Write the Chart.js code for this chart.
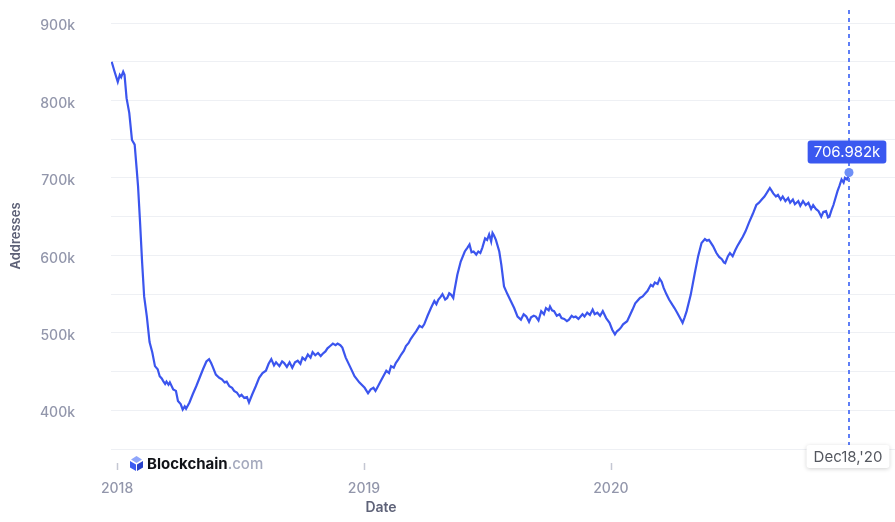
<!DOCTYPE html>
<html>
<head>
<meta charset="utf-8">
<script src="https://cdn.jsdelivr.net/npm/chart.js@4/dist/chart.umd.min.js"></script>
<style>
  html, body { margin: 0; padding: 0; background: #fff; }
  #wrap { width: 895px; height: 522px; position: relative; }
</style>
</head>
<body>
<div id="wrap"><canvas id="myChart"></canvas></div>
<script>
// tarih ve adres sayisi (bin)
const dates = [
  '2017-12-24','2017-12-28','2018-01-02','2018-01-05','2018-01-07','2018-01-10','2018-01-12','2018-01-15','2018-01-19','2018-01-23',
  '2018-01-27','2018-01-30','2018-02-01','2018-02-04','2018-02-07','2018-02-10','2018-02-14','2018-02-18','2018-02-22','2018-02-26',
  '2018-03-02','2018-03-05','2018-03-08','2018-03-10','2018-03-13','2018-03-15','2018-03-18','2018-03-20','2018-03-25','2018-03-29',
  '2018-04-01','2018-04-05','2018-04-08','2018-04-11','2018-04-13','2018-04-18','2018-04-23','2018-04-28','2018-05-03','2018-05-08',
  '2018-05-13','2018-05-17','2018-05-20','2018-05-22','2018-05-27','2018-06-01','2018-06-05','2018-06-09','2018-06-12','2018-06-16',
  '2018-06-20','2018-06-23','2018-06-27','2018-07-01','2018-07-04','2018-07-08','2018-07-12','2018-07-15','2018-07-20','2018-07-25',
  '2018-07-30','2018-08-04','2018-08-09','2018-08-13','2018-08-17','2018-08-21','2018-08-24','2018-08-29','2018-09-02','2018-09-05',
  '2018-09-09','2018-09-13','2018-09-17','2018-09-21','2018-09-25','2018-09-29','2018-10-02','2018-10-06','2018-10-10','2018-10-14',
  '2018-10-17','2018-10-21','2018-10-25','2018-10-29','2018-11-01','2018-11-05','2018-11-08','2018-11-12','2018-11-16','2018-11-20',
  '2018-11-23','2018-11-27','2018-11-30','2018-12-05','2018-12-11','2018-12-18','2018-12-25','2019-01-02','2019-01-07','2019-01-11',
  '2019-01-15','2019-01-18','2019-01-20','2019-01-26','2019-02-03','2019-02-07','2019-02-10','2019-02-14','2019-02-17','2019-02-21',
  '2019-02-25','2019-03-01','2019-03-04','2019-03-08','2019-03-11','2019-03-15','2019-03-19','2019-03-24','2019-03-28','2019-03-31',
  '2019-04-05','2019-04-10','2019-04-15','2019-04-18','2019-04-21','2019-04-24','2019-04-27','2019-05-01','2019-05-04','2019-05-07',
  '2019-05-10','2019-05-13','2019-05-15','2019-05-19','2019-05-24','2019-05-30','2019-06-03','2019-06-06','2019-06-09','2019-06-12',
  '2019-06-16','2019-06-19','2019-06-22','2019-06-25','2019-06-29','2019-07-02','2019-07-05','2019-07-08','2019-07-10','2019-07-12',
  '2019-07-15','2019-07-20','2019-07-23','2019-07-27','2019-08-01','2019-08-06','2019-08-11','2019-08-16','2019-08-21','2019-08-25',
  '2019-08-29','2019-09-02','2019-09-05','2019-09-09','2019-09-12','2019-09-16','2019-09-20','2019-09-24','2019-09-27','2019-10-01',
  '2019-10-03','2019-10-06','2019-10-09','2019-10-13','2019-10-17','2019-10-20','2019-10-24','2019-10-28','2019-10-31','2019-11-04',
  '2019-11-07','2019-11-10','2019-11-14','2019-11-20','2019-11-23','2019-11-27','2019-12-01','2019-12-05','2019-12-08','2019-12-12',
  '2019-12-16','2019-12-20','2019-12-25','2019-12-30','2020-01-03','2020-01-07','2020-01-10','2020-01-13','2020-01-16','2020-01-19',
  '2020-01-25','2020-02-02','2020-02-06','2020-02-09','2020-02-13','2020-02-17','2020-02-21','2020-02-24','2020-02-29','2020-03-03',
  '2020-03-06','2020-03-10','2020-03-13','2020-03-16','2020-03-19','2020-03-23','2020-03-27','2020-04-01','2020-04-04','2020-04-08',
  '2020-04-11','2020-04-16','2020-04-19','2020-04-22','2020-04-28','2020-05-04','2020-05-09','2020-05-14','2020-05-19','2020-05-22',
  '2020-05-25','2020-05-31','2020-06-05','2020-06-09','2020-06-13','2020-06-16','2020-06-18','2020-06-22','2020-06-25','2020-06-29',
  '2020-07-03','2020-07-06','2020-07-10','2020-07-14','2020-07-18','2020-07-23','2020-07-29','2020-08-03','2020-08-07','2020-08-11',
  '2020-08-15','2020-08-18','2020-08-23','2020-08-26','2020-08-28','2020-09-01','2020-09-04','2020-09-08','2020-09-11','2020-09-15',
  '2020-09-19','2020-09-22','2020-09-26','2020-09-29','2020-10-04','2020-10-07','2020-10-11','2020-10-15','2020-10-19','2020-10-23',
  '2020-10-26','2020-10-30','2020-11-03','2020-11-07','2020-11-10','2020-11-14','2020-11-17','2020-11-19','2020-11-22','2020-11-25',
  '2020-12-01','2020-12-04','2020-12-07','2020-12-10','2020-12-12','2020-12-15','2020-12-17','2020-12-18'
];

const addresses = [
  850, 838, 824, 833, 830, 837, 833, 803, 784, 749,
  743, 711, 689, 642, 591, 547, 521, 488, 475, 457,
  453, 444, 441, 438, 434, 437, 433, 436, 427, 425,
  412, 408, 401, 405, 402, 410, 421, 431, 442, 453,
  463, 466, 461, 457, 446, 442, 440, 436, 437, 431,
  429, 425, 423, 418, 420, 416, 417, 410, 421, 431,
  442, 448, 451, 460, 466, 458, 462, 457, 463, 461,
  456, 462, 455, 462, 464, 460, 468, 465, 472, 468,
  475, 471, 474, 470, 473, 476, 480, 483, 486, 484,
  486, 484, 481, 468, 457, 444, 436, 429, 422, 427,
  429, 425, 428, 438, 451, 448, 457, 455, 461, 466,
  472, 477, 483, 487, 492, 497, 502, 509, 507, 511,
  522, 532, 541, 537, 543, 546, 550, 543, 545, 551,
  549, 545, 556, 575, 592, 605, 610, 614, 604, 605,
  601, 605, 603, 610, 622, 620, 627, 618, 629, 626,
  620, 605, 588, 560, 550, 541, 532, 521, 517, 524,
  521, 514, 520, 522, 521, 516, 528, 524, 532, 529,
  534, 529, 528, 522, 524, 519, 518, 515, 517, 522,
  520, 521, 518, 524, 521, 526, 523, 530, 524, 526,
  522, 528, 519, 513, 504, 498, 502, 504, 507, 511,
  515, 530, 538, 541, 545, 547, 551, 554, 562, 560,
  565, 563, 570, 566, 558, 550, 543, 536, 532, 526,
  521, 513, 520, 528, 549, 577, 599, 616, 621, 619,
  620, 612, 603, 598, 595, 591, 590, 599, 603, 599,
  607, 612, 618, 624, 631, 642, 654, 665, 668, 672,
  676, 680, 687, 683, 680, 676, 678, 672, 676, 670,
  674, 668, 672, 666, 670, 664, 670, 665, 668, 660,
  665, 660, 657, 650, 656, 657, 649, 650, 658, 665,
  683, 690, 698, 694, 700, 698, 702, 706.982
];

// eksen sinirlari ve yil etiketleri
const xStart = '2017-12-23';
const xEnd = '2021-02-24';
const yearTicks = ['2018-01-01', '2019-01-01', '2020-01-01'];
const yMin = 350;
const yMax = 900;
const lastLabel = "Dec18,'20";

const toTime = s => Date.parse(s + 'T00:00:00Z');
const points = dates.map((d, i) => ({ x: toTime(d), y: addresses[i] }));

const FONT = 'Inter, "Noto Sans", sans-serif';
const LINE = '#3b55ee';

// son nokta, kesikli cizgi, kutucuklar ve logo
const overlay = {
  id: 'overlay',
  afterDraw(c) {
    const ctx = c.ctx;
    const area = c.chartArea;
    const xs = c.scales.x;
    const meta = c.getDatasetMeta(0);

    // x ekseni tik cizgileri
    ctx.save();
    ctx.strokeStyle = '#c4c7d3';
    ctx.lineWidth = 1.5;
    xs.ticks.forEach(t => {
      const px = Math.round(xs.getPixelForValue(t.value)) + 0.5;
      ctx.beginPath();
      ctx.moveTo(px, area.bottom + 14);
      ctx.lineTo(px, area.bottom + 21);
      ctx.stroke();
    });

    // "Date" basligi
    ctx.fillStyle = '#5e6278';
    ctx.font = '600 14px ' + FONT;
    ctx.textAlign = 'center';
    ctx.textBaseline = 'middle';
    ctx.fillText('Date', area.left + 270, area.bottom + 59);
    ctx.restore();

    // logo
    ctx.save();
    const lx = area.left + 19, ly = area.bottom + 8;
    ctx.fillStyle = '#8fa6fb';
    ctx.beginPath();
    ctx.moveTo(lx + 6.5, ly - 1); ctx.lineTo(lx + 12, ly + 2.5); ctx.lineTo(lx + 6.5, ly + 6); ctx.lineTo(lx + 1, ly + 2.5);
    ctx.closePath(); ctx.fill();
    ctx.fillStyle = '#3b5bf2';
    ctx.beginPath();
    ctx.moveTo(lx, ly + 4); ctx.lineTo(lx + 6, ly + 7.5); ctx.lineTo(lx + 6, ly + 14); ctx.lineTo(lx, ly + 10.5);
    ctx.closePath(); ctx.fill();
    ctx.fillStyle = '#2741c9';
    ctx.beginPath();
    ctx.moveTo(lx + 13, ly + 4); ctx.lineTo(lx + 7, ly + 7.5); ctx.lineTo(lx + 7, ly + 14); ctx.lineTo(lx + 13, ly + 10.5);
    ctx.closePath(); ctx.fill();
    ctx.font = '700 15px ' + FONT;
    ctx.textBaseline = 'middle';
    ctx.textAlign = 'left';
    ctx.fillStyle = '#111318';
    ctx.fillText('Blockchain', lx + 17, ly + 7);
    const bw = ctx.measureText('Blockchain').width;
    ctx.font = '500 15px ' + FONT;
    ctx.fillStyle = '#a4a9bd';
    ctx.fillText('.com', lx + 17 + bw, ly + 7);
    ctx.restore();

    // son nokta
    const last = meta.data[meta.data.length - 1];
    const px = last.x, py = last.y;

    ctx.save();
    ctx.strokeStyle = '#5f7ff6';
    ctx.lineWidth = 2;
    ctx.setLineDash([4, 4]);
    ctx.beginPath();
    ctx.moveTo(px, area.top - 13);
    ctx.lineTo(px, area.bottom - 4);
    ctx.stroke();
    ctx.setLineDash([]);

    ctx.fillStyle = '#6e8ff7';
    ctx.beginPath();
    ctx.arc(px, py, 4.5, 0, Math.PI * 2);
    ctx.fill();

    // deger kutusu
    const valText = addresses[addresses.length - 1].toFixed(3) + 'k';
    ctx.font = '400 15px ' + FONT;
    const tw = ctx.measureText(valText).width;
    const bx = px - 2 - (tw + 12) / 2, by = py - 32;
    ctx.fillStyle = '#3a58f0';
    ctx.beginPath();
    ctx.roundRect(bx, by, tw + 12, 23, 3);
    ctx.fill();
    ctx.fillStyle = '#ffffff';
    ctx.textAlign = 'center';
    ctx.textBaseline = 'middle';
    ctx.fillText(valText, bx + (tw + 12) / 2, by + 12);

    // tarih kutusu
    const dw = ctx.measureText(lastLabel).width + 14;
    const dx = px - 1 - dw / 2, dy = area.bottom - 4;
    ctx.shadowColor = 'rgba(0,0,0,0.18)';
    ctx.shadowBlur = 4;
    ctx.shadowOffsetY = 1;
    ctx.fillStyle = '#ffffff';
    ctx.beginPath();
    ctx.roundRect(dx, dy, dw, 23, 3);
    ctx.fill();
    ctx.shadowColor = 'transparent';
    ctx.fillStyle = '#54575f';
    ctx.fillText(lastLabel, dx + dw / 2, dy + 12);
    ctx.restore();
  }
};

const ctx = document.getElementById('myChart').getContext('2d');
const chart = new Chart(ctx, {
  type: 'line',
  data: {
    datasets: [{
      label: 'Addresses',
      data: points,
      borderColor: LINE,
      borderWidth: 2.2,
      pointRadius: 0,
      tension: 0,
      fill: false
    }]
  },
  options: {
    responsive: true,
    maintainAspectRatio: false,
    animation: false,
    layout: { padding: { top: 23, right: 0, left: 8, bottom: 0 } },
    plugins: { legend: { display: false }, tooltip: { enabled: false } },
    scales: {
      x: {
        type: 'linear',
        min: toTime(xStart),
        max: toTime(xEnd),
        afterBuildTicks: s => { s.ticks = yearTicks.map(y => ({ value: toTime(y) })); },
        afterFit: s => { s.height = 73; s.paddingLeft = 0; s.paddingRight = 0; },
        grid: { display: false, drawTicks: false },
        border: { display: false },
        ticks: {
          padding: 31,
          maxRotation: 0,
          autoSkip: false,
          color: '#9296ab',
          font: { family: FONT, size: 14, weight: '500' },
          callback: v => new Date(v).getUTCFullYear()
        }
      },
      y: {
        min: yMin,
        max: yMax,
        // etiket boslugu ust kenari itmesin
        afterFit: s => { s.width = 103; s.paddingTop = 0; s.paddingBottom = 0; },
        grid: { color: '#eef0f4', drawTicks: false, lineWidth: 1 },
        border: { display: false },
        ticks: {
          stepSize: 50,
          padding: 36,
          labelOffset: 3,
          color: '#9296ab',
          font: { family: FONT, size: 14, weight: '500' },
          callback: v => (v % 100 === 0 ? v + 'k' : '')
        },
        title: {
          display: true,
          text: 'Addresses',
          color: '#5e6278',
          font: { family: FONT, size: 13, weight: '600' },
          padding: { top: 0, bottom: 0 }
        }
      }
    }
  },
  plugins: [overlay]
});
</script>
</body>
</html>
